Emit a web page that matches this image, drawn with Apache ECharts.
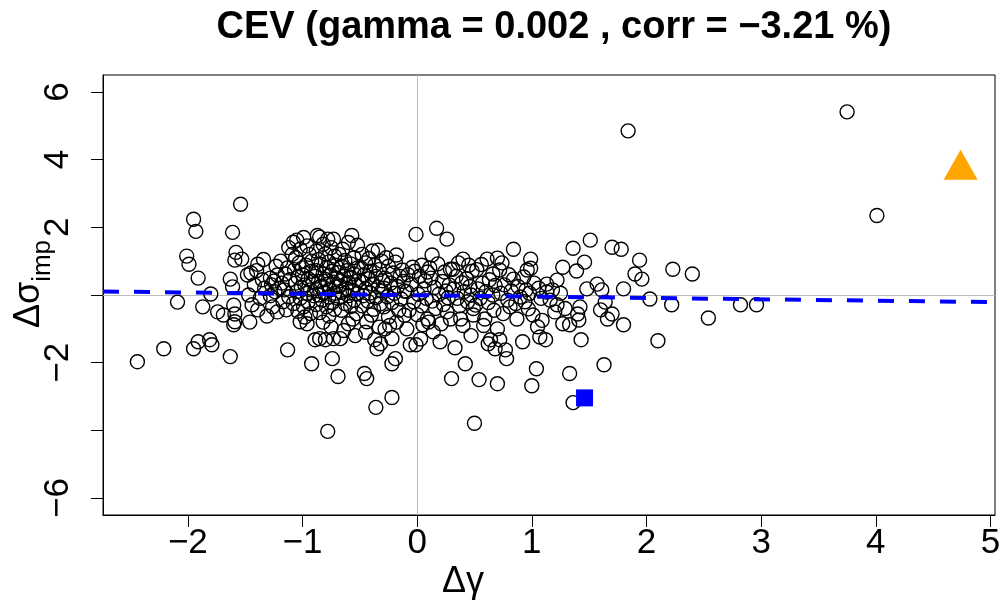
<!DOCTYPE html>
<html>
<head>
<meta charset="utf-8">
<script src="https://cdn.jsdelivr.net/npm/echarts@6/dist/echarts.min.js"></script>
<style>
  html, body { margin: 0; padding: 0; background: #ffffff; }
  #chart { width: 1003px; height: 602px; }
</style>
</head>
<body>
<div id="chart"></div>
<script>
// ---- data -------------------------------------------------------------
const titleText = 'CEV (gamma = 0.002 , corr = \u22123.21 %)';
const xTicks = [-2, -1, 0, 1, 2, 3, 4, 5];
const yTicks = [-6, -4, -2, 0, 2, 4, 6];
const yTickLabels = [6, 4, 2, -2, -6];
const xRange = [-2.74, 5.04];
const yRange = [-6.5, 6.5];

// (delta gamma, delta implied vol) pairs
const points = [
  // x < -1.5
  [-2.44,-1.97],[-2.21,-1.59],[-2.09,-0.21],[-2.01,1.15],[-1.99,0.91],[-1.95,2.24],[-1.93,1.88],
  [-1.91,0.50],[-1.95,-1.59],[-1.91,-1.38],[-1.81,-1.32],[-1.79,-1.47],[-1.80,0.03],[-1.87,-0.35],
  [-1.54,2.68],[-1.61,1.85],[-1.58,1.26],[-1.59,1.03],[-1.53,1.06],[-1.63,0.47],[-1.61,0.24],
  [-1.74,-0.50],[-1.69,-0.59],[-1.60,-0.30],[-1.59,-0.56],[-1.59,-0.79],[-1.60,-0.88],[-1.63,-1.82],
  // -1.5 .. -1.3
  [-1.48,0.59],[-1.45,0.65],[-1.39,0.91],[-1.47,0.00],[-1.44,-0.29],[-1.39,-0.44],[-1.42,0.30],
  [-1.35,0.45],[-1.33,0.20],[-1.37,-0.10],[-1.31,-0.62],[-1.46,-0.80],[-1.34,1.05],[-1.40,0.72],
  // -1.3 .. -1.1
  [-1.28,0.50],[-1.25,0.41],[-1.22,0.59],[-1.27,0.30],[-1.20,0.20],[-1.24,0.10],[-1.18,0.35],
  [-1.15,0.62],[-1.13,0.80],[-1.19,1.00],[-1.23,0.85],[-1.26,-0.35],[-1.17,-0.20],[-1.12,-0.05],
  [-1.22,-0.50],[-1.14,-0.44],[-1.11,0.45],[-1.16,0.15],[-1.09,1.20],[-1.12,1.40],[-1.28,-0.02],
  [-1.13,-1.62],
  // -1.1 .. -0.9
  [-1.08,1.56],[-1.05,1.62],[-0.99,1.70],[-1.02,1.35],[-0.96,1.45],[-1.06,1.10],[-0.94,1.20],
  [-1.03,0.95],[-0.97,0.88],[-1.07,0.75],[-0.92,0.70],[-1.00,0.60],[-1.04,0.52],[-0.95,0.48],
  [-0.91,0.40],[-1.06,0.35],[-0.98,0.30],[-1.01,0.22],[-0.93,0.15],[-1.05,0.10],[-0.96,0.05],
  [-0.90,-0.02],[-1.02,-0.10],[-0.95,-0.20],[-1.08,-0.25],[-0.99,-0.35],[-1.04,-0.48],[-0.93,-0.55],
  [-1.02,-0.79],[-0.96,-0.85],[-0.92,-2.03],[-0.98,-0.65],[-1.00,0.80],[-0.92,1.00],
  // -0.9 .. -0.7
  [-0.87,1.76],[-0.85,1.71],[-0.78,1.65],[-0.73,1.65],[-0.82,1.50],[-0.75,1.40],[-0.88,1.30],
  [-0.80,1.22],[-0.72,1.15],[-0.86,1.05],[-0.77,0.98],[-0.84,0.90],[-0.71,0.88],[-0.79,0.80],
  [-0.88,0.72],[-0.74,0.70],[-0.82,0.62],[-0.76,0.58],[-0.89,0.55],[-0.70,0.50],[-0.80,0.46],
  [-0.86,0.40],[-0.73,0.38],[-0.78,0.32],[-0.84,0.26],[-0.71,0.24],[-0.88,0.18],[-0.76,0.15],
  [-0.81,0.08],[-0.72,0.05],[-0.86,0.00],[-0.77,-0.06],[-0.83,-0.15],[-0.74,-0.22],[-0.88,-0.28],
  [-0.79,-0.35],[-0.72,-0.42],[-0.85,-0.52],[-0.77,-0.62],[-0.89,-1.32],[-0.85,-1.29],[-0.80,-1.32],
  [-0.73,-1.29],[-0.74,-1.88],[-0.78,-4.03],[-0.82,-0.80],[-0.75,-0.95],
  // -0.7 .. -0.5
  [-0.67,-1.29],[-0.69,-2.41],[-0.65,1.35],[-0.57,1.76],[-0.52,1.47],[-0.60,1.55],[-0.68,1.20],
  [-0.55,1.10],[-0.63,1.02],[-0.58,0.92],[-0.66,0.85],[-0.52,0.80],[-0.61,0.72],[-0.69,0.66],
  [-0.55,0.62],[-0.64,0.55],[-0.58,0.50],[-0.51,0.44],[-0.67,0.42],[-0.60,0.36],[-0.54,0.30],
  [-0.68,0.26],[-0.62,0.20],[-0.56,0.14],[-0.66,0.08],[-0.52,0.04],[-0.60,-0.02],[-0.69,-0.10],
  [-0.55,-0.16],[-0.63,-0.25],[-0.58,-0.34],[-0.66,-0.45],[-0.53,-0.55],[-0.56,-0.71],[-0.60,-0.85],
  [-0.64,-1.05],[-0.54,-1.20],
  // -0.5 .. -0.3
  [-0.46,-2.32],[-0.44,-2.47],[-0.36,-3.32],[-0.44,-0.79],[-0.40,-0.59],[-0.37,-1.32],[-0.35,-1.59],
  [-0.32,-1.44],[-0.34,1.32],[-0.39,1.30],[-0.48,1.20],[-0.42,1.08],[-0.31,1.00],[-0.45,0.95],
  [-0.37,0.88],[-0.49,0.80],[-0.33,0.75],[-0.41,0.70],[-0.46,0.60],[-0.36,0.55],[-0.43,0.48],
  [-0.30,0.42],[-0.48,0.38],[-0.39,0.32],[-0.34,0.24],[-0.45,0.18],[-0.31,0.12],[-0.41,0.06],
  [-0.47,-0.02],[-0.36,-0.08],[-0.43,-0.18],[-0.32,-0.26],[-0.48,-0.32],[-0.38,-0.42],[-0.45,-1.10],
  [-0.33,-0.95],
  // -0.3 .. -0.1
  [-0.22,-3.03],[-0.28,-1.00],[-0.24,-0.90],[-0.22,-1.29],[-0.19,-1.88],[-0.22,-2.03],[-0.18,1.18],
  [-0.19,0.97],[-0.13,0.74],[-0.27,1.10],[-0.25,0.85],[-0.21,0.65],[-0.15,0.55],[-0.28,0.50],
  [-0.12,0.40],[-0.23,0.35],[-0.17,0.25],[-0.29,0.20],[-0.11,0.12],[-0.20,0.05],[-0.26,-0.05],
  [-0.14,-0.12],[-0.22,-0.22],[-0.29,-0.35],[-0.16,-0.45],[-0.11,-0.60],[-0.25,-0.65],[-0.18,-0.80],
  // -0.1 .. 0.1
  [-0.01,1.79],[0.04,0.88],[-0.04,0.82],[0.09,-0.71],[0.05,-0.88],[0.10,-0.80],[-0.01,-1.47],
  [-0.06,-1.47],[0.03,-1.30],[-0.08,0.60],[0.02,0.55],[0.07,0.42],[-0.05,0.30],[0.06,0.18],
  [-0.09,0.10],[0.01,0.02],[0.08,-0.10],[-0.03,-0.20],[0.04,-0.32],[-0.07,-0.45],[0.00,-0.58],
  [-0.09,-1.00],[0.09,0.68],[-0.02,0.70],
  // 0.1 .. 0.3
  [0.17,1.97],[0.26,1.65],[0.13,1.18],[0.24,0.68],[0.29,0.76],[0.20,-1.38],[0.14,-1.09],
  [0.29,-0.71],[0.30,-2.47],[0.18,0.92],[0.12,0.50],[0.22,0.40],[0.28,0.30],[0.15,0.22],
  [0.25,0.12],[0.19,0.02],[0.27,-0.08],[0.13,-0.18],[0.23,-0.28],[0.16,-0.40],[0.26,-0.50],
  [0.21,-0.85],[0.11,0.80],
  // 0.3 .. 0.5
  [0.33,-1.56],[0.42,-2.03],[0.31,0.76],[0.40,1.06],[0.38,-0.71],[0.49,-0.59],[0.36,0.95],
  [0.45,0.88],[0.48,0.70],[0.34,0.55],[0.43,0.48],[0.39,0.36],[0.46,0.25],[0.32,0.18],
  [0.41,0.10],[0.47,0.00],[0.35,-0.10],[0.44,-0.20],[0.37,-0.32],[0.49,-0.40],[0.40,-0.90],
  [0.50,-3.79],[0.47,-1.20],
  // 0.5 .. 0.7
  [0.61,1.06],[0.70,1.09],[0.66,0.62],[0.59,-0.71],[0.70,-1.00],[0.64,-1.32],[0.68,-1.59],
  [0.54,-2.50],[0.70,-2.62],[0.62,-1.44],[0.56,0.90],[0.52,0.75],[0.63,0.45],[0.57,0.35],
  [0.68,0.28],[0.53,0.18],[0.60,0.10],[0.66,0.00],[0.55,-0.10],[0.62,-0.22],[0.51,-0.30],
  [0.67,-0.45],[0.58,-0.90],
  // 0.7 .. 0.9
  [0.72,0.74],[0.84,0.47],[0.84,1.35],[0.72,-1.32],[0.77,-1.62],[0.78,-1.88],[0.87,-0.71],
  [0.81,-0.35],[0.90,-0.06],[0.75,-0.55],[0.88,0.25],[0.76,0.30],[0.82,0.12],[0.73,0.05],
  [0.79,-0.15],[0.86,-0.25],[0.74,0.95],[0.80,0.60],
  // 0.9 .. 1.1
  [0.96,0.74],[0.99,1.06],[0.99,0.79],[0.93,0.53],[0.92,-1.38],[1.07,-1.24],[1.05,-0.94],
  [1.01,-0.59],[0.97,-0.41],[1.04,-2.18],[1.00,-2.68],[1.06,0.20],[0.95,0.15],[1.02,0.35],
  [1.08,-0.10],[0.94,-0.20],[1.09,-0.75],[0.98,0.05],
  // 1.1 .. 1.5
  [1.13,0.32],[1.13,0.09],[1.22,0.44],[1.27,0.82],[1.20,-0.50],[1.22,-0.29],[1.27,-0.85],
  [1.12,-1.32],[1.16,-0.15],[1.25,0.05],[1.18,0.15],[1.29,-0.40],
  [1.36,1.38],[1.39,0.71],[1.46,0.97],[1.48,0.18],[1.42,-0.35],[1.40,-0.56],[1.41,-0.74],
  [1.33,-0.88],[1.43,-1.32],[1.33,-2.32],[1.36,-3.18],
  // x > 1.5
  [1.51,1.62],[1.70,1.41],[1.78,1.35],[1.94,1.03],[1.90,0.62],[1.96,0.47],[2.23,0.76],
  [2.40,0.62],[1.57,0.32],[1.61,0.15],[1.80,0.18],[2.03,-0.12],[2.22,-0.29],[2.82,-0.29],
  [2.96,-0.29],[2.54,-0.68],[1.60,-0.44],[1.64,-0.21],[1.66,-0.71],[1.70,-0.56],[1.80,-0.88],
  [2.10,-1.35],[1.63,-2.06],[1.84,4.85],[3.75,5.41],[4.01,2.35]
];

// highlighted observations
const upMark = [[4.74, 3.85]];
const downMark = [[1.46, -3.04]];

// fitted regression line, end points at the axis limits
const fitX = [-2.74, 5.04];
const fitY = [0.105, -0.21];

// ---- chart ------------------------------------------------------------
const FONT = '"Liberation Sans", Arial, Helvetica, sans-serif';
const fmt = v => (v < 0 ? '\u2212' + Math.abs(v) : String(v));

const chart = echarts.init(document.getElementById('chart'), null, { renderer: 'canvas' });

chart.setOption({
  animation: false,
  backgroundColor: '#ffffff',
  title: {
    text: titleText,
    left: 549,
    top: 4,
    textAlign: 'center',
    textStyle: { fontFamily: FONT, fontWeight: 'bold', fontSize: 38, color: '#000' }
  },
  grid: {
    left: 103, right: 8, top: 75, bottom: 87,
    show: true, borderColor: '#000', borderWidth: 1, backgroundColor: 'transparent',
    outerBoundsMode: 'none'
  },
  xAxis: {
    type: 'value',
    min: xRange[0], max: xRange[1],
    name: '\u0394\u03b3',
    nameLocation: 'middle',
    nameGap: 49,
    nameMoveOverlap: false,
    nameTextStyle: { fontFamily: FONT, fontSize: 36, color: '#000', padding: [0, 172, 0, 0] },
    axisLine: { show: true, onZero: false, lineStyle: { color: '#000', width: 1 } },
    axisTick: { show: true, inside: false, length: 12, customValues: xTicks, lineStyle: { color: '#000', width: 1 } },
    axisLabel: { customValues: xTicks, formatter: fmt, margin: 11, fontFamily: FONT, fontSize: 35, color: '#000' },
    splitLine: { show: false }
  },
  yAxis: {
    type: 'value',
    min: yRange[0], max: yRange[1],
    name: '{a|\u0394\u03c3}{b|imp}',
    nameLocation: 'middle',
    nameGap: 56,
    nameMoveOverlap: false,
    nameTextStyle: {
      fontFamily: FONT, color: '#000', padding: [0, 0, 0, 22],
      rich: {
        a: { fontFamily: FONT, fontSize: 36, lineHeight: 36, verticalAlign: 'top', color: '#000' },
        b: { fontFamily: FONT, fontSize: 26, lineHeight: 26, verticalAlign: 'top', padding: [19, 0, 0, 0], color: '#000' }
      }
    },
    axisLine: { show: true, onZero: false, lineStyle: { color: '#000', width: 1 } },
    axisTick: { show: true, inside: false, length: 12, customValues: yTicks, lineStyle: { color: '#000', width: 1 } },
    axisLabel: { customValues: yTickLabels, rotate: 90, formatter: fmt, margin: 27, fontFamily: FONT, fontSize: 35, color: '#000' },
    splitLine: { show: false }
  },
  series: [
    {
      type: 'scatter',
      data: points,
      symbol: 'circle',
      symbolSize: 14,
      itemStyle: { color: 'rgba(0,0,0,0)', borderColor: '#000', borderWidth: 1.4, opacity: 1 },
      silent: true,
      z: 3,
      markLine: {
        silent: true,
        symbol: 'none',
        label: { show: false },
        lineStyle: { color: '#bebebe', width: 1, type: 'solid' },
        data: [{ xAxis: 0 }, { yAxis: 0 }],
        z: 1
      }
    },
    {
      type: 'line',
      data: fitX.map((x, i) => [x, fitY[i]]),
      symbol: 'none',
      silent: true,
      lineStyle: { color: '#0000ff', width: 4, type: [16, 15] },
      z: 4
    },
    {
      type: 'scatter',
      data: upMark,
      symbol: 'triangle',
      symbolSize: [34, 30],
      itemStyle: { color: '#ffa500', opacity: 1 },
      silent: true,
      z: 5
    },
    {
      type: 'scatter',
      data: downMark,
      symbol: 'rect',
      symbolSize: 17,
      itemStyle: { color: '#0000ff', opacity: 1 },
      silent: true,
      z: 5
    }
  ]
});
</script>
</body>
</html>
